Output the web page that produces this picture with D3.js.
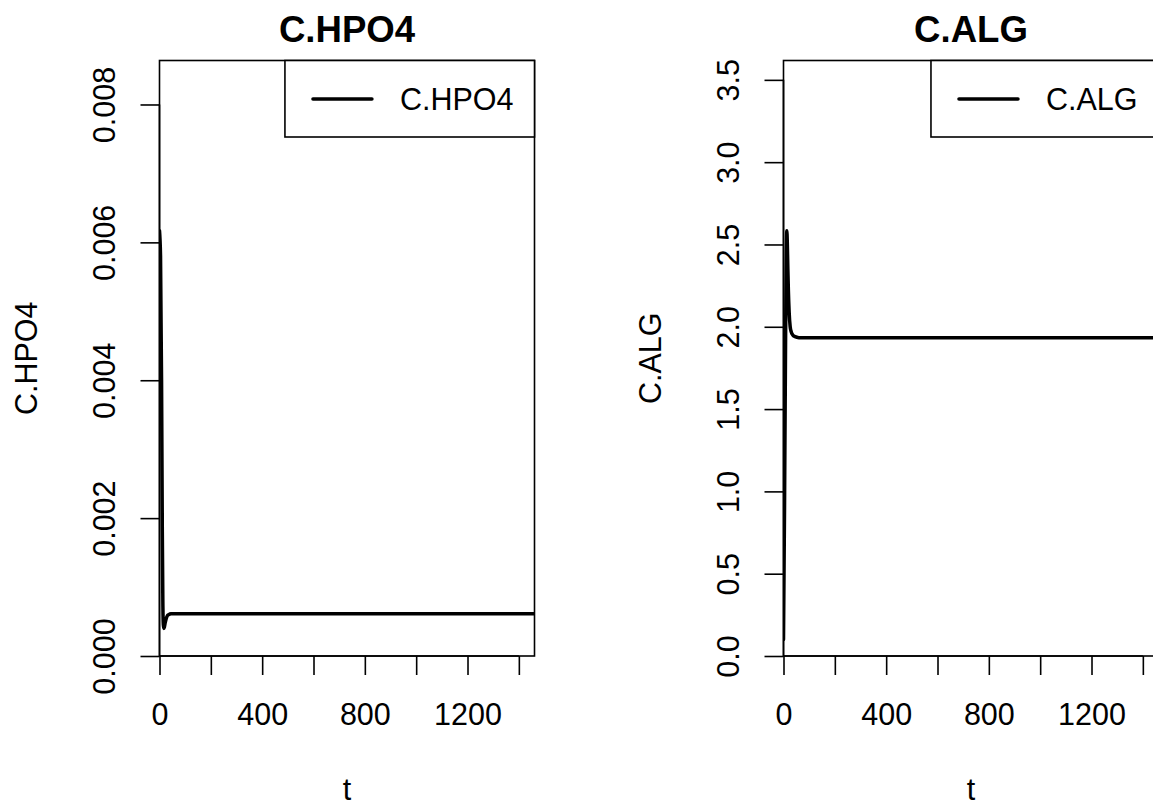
<!DOCTYPE html>
<html>
<head>
<meta charset="utf-8">
<script src="https://cdn.jsdelivr.net/npm/d3@7"></script>
<style>
  html, body { margin: 0; padding: 0; background: #fff; }
  svg { display: block; }
  text { font-family: "Liberation Sans", Arial, Helvetica, sans-serif; fill: #000; }
</style>
</head>
<body>
<svg id="chart" width="1153" height="806"></svg>
<script>
// Simulation output: time (t) and the two state variables
const time = [0, 4, 8, 11, 13, 15, 17, 19, 22, 26, 30, 36, 45, 60, 90, 1461];
const hpo4 = [0.00617, 0.0058, 0.0040, 0.0018, 0.0008, 0.00045, 0.00040, 0.00042, 0.00048,
              0.00054, 0.00058, 0.00060, 0.000612, 0.000614, 0.000614, 0.000614];
const alg  = [0.10, 0.90, 1.90, 2.45, 2.584, 2.50, 2.35, 2.22, 2.09,
              2.00, 1.97, 1.95, 1.94, 1.934, 1.933, 1.933];

// Axis ticks and labels
const xTicks = [0, 200, 400, 600, 800, 1000, 1200, 1400];
const xTickLabels = [0, 400, 800, 1200];
const yTicksHPO4 = [0, 0.002, 0.004, 0.006, 0.008];
const yLabelsHPO4 = ["0.000", "0.002", "0.004", "0.006", "0.008"];
const yTicksALG = [0, 0.5, 1, 1.5, 2, 2.5, 3, 3.5];
const yLabelsALG = ["0.0", "0.5", "1.0", "1.5", "2.0", "2.5", "3.0", "3.5"];

const panels = [
  { name: "C.HPO4", values: hpo4, yTicks: yTicksHPO4, yLabels: yLabelsHPO4, offset: 0 },
  { name: "C.ALG",  values: alg,  yTicks: yTicksALG,  yLabels: yLabelsALG,  offset: 624 }
];

const svg = d3.select("#chart");
const base = 30.5;          // base font size
const lw = 1.6;             // axis/box line width
const tick = 19;            // tick length
const plot = { left: 159.5, top: 60.5, width: 375, bottom: 656 };

panels.forEach((p, i) => {
  const g = svg.append("g").attr("transform", `translate(${p.offset},0)`);
  const x0 = plot.left, x1 = plot.left + plot.width;

  const x = d3.scaleLinear().domain([0, d3.max(time)]).range([x0, x1]);
  const y = d3.scaleLinear().domain([0, 1.4 * d3.max(p.values)]).range([plot.bottom, plot.top]);

  // clip region for the series
  g.append("clipPath").attr("id", "clip" + i)
    .append("rect").attr("x", x0).attr("y", plot.top)
    .attr("width", plot.width).attr("height", plot.bottom - plot.top);

  // series line
  const line = d3.line().x((d, k) => x(time[k])).y(d => y(d)).curve(d3.curveMonotoneX);
  g.append("path").datum(p.values)
    .attr("clip-path", `url(#clip${i})`)
    .attr("d", line)
    .attr("fill", "none").attr("stroke", "#000")
    .attr("stroke-width", 3.5)
    .attr("stroke-linejoin", "round").attr("stroke-linecap", "round");

  // bottom axis
  const xAxis = d3.axisBottom(x).tickValues(xTicks).tickSize(tick)
    .tickFormat(d => xTickLabels.includes(d) ? d : "");
  const gx = g.append("g").attr("transform", `translate(0,${plot.bottom})`).call(xAxis);
  gx.select(".domain").attr("d", `M${x(xTicks[0])},0H${x(xTicks[xTicks.length - 1])}`);
  gx.selectAll("path, line").attr("stroke", "#000").attr("stroke-width", lw);
  gx.selectAll("text").attr("font-size", base).attr("dy", null).attr("y", 69)
    .attr("font-family", null);

  // left axis, labels rotated parallel to the axis
  const yAxis = d3.axisLeft(y).tickValues(p.yTicks).tickSize(tick)
    .tickFormat((d, k) => p.yLabels[k]);
  const gy = g.append("g").attr("transform", `translate(${x0},0)`).call(yAxis);
  gy.select(".domain").attr("d", `M0,${y(p.yTicks[0])}V${y(p.yTicks[p.yTicks.length - 1])}`);
  gy.selectAll("path, line").attr("stroke", "#000").attr("stroke-width", lw);
  gy.selectAll("text").attr("font-size", base).attr("font-family", null)
    .attr("x", null).attr("dy", null)
    .attr("transform", "translate(-44.5,0) rotate(-90)")
    .attr("text-anchor", "middle");

  // plot box
  g.append("rect").attr("x", x0).attr("y", plot.top)
    .attr("width", plot.width).attr("height", plot.bottom - plot.top)
    .attr("fill", "none").attr("stroke", "#000").attr("stroke-width", lw);

  // title and axis titles
  g.append("text").attr("x", (x0 + x1) / 2).attr("y", 42)
    .attr("text-anchor", "middle").attr("font-weight", "bold")
    .attr("font-size", base * 1.2).text(p.name);
  g.append("text").attr("x", (x0 + x1) / 2).attr("y", 800)
    .attr("text-anchor", "middle").attr("font-size", base).text("t");
  g.append("text")
    .attr("transform", `translate(37,${(plot.top + plot.bottom) / 2}) rotate(-90)`)
    .attr("text-anchor", "middle").attr("font-size", base).text(p.name);

  // legend in the top-right corner
  const lg = g.append("g");
  const lt = lg.append("text").attr("font-size", base).attr("y", 99 + base * 0.358).text(p.name);
  const tw = lt.node().getComputedTextLength();
  const bx = x1 - (tw + 136);
  lt.attr("x", bx + 115);
  lg.insert("rect", "text").attr("x", bx).attr("y", plot.top)
    .attr("width", x1 - bx).attr("height", 137 - plot.top)
    .attr("fill", "#fff").attr("stroke", "#000").attr("stroke-width", lw);
  lg.append("line").attr("x1", bx + 28).attr("x2", bx + 87).attr("y1", 99).attr("y2", 99)
    .attr("stroke", "#000").attr("stroke-width", 3.5).attr("stroke-linecap", "round");
});
</script>
</body>
</html>
